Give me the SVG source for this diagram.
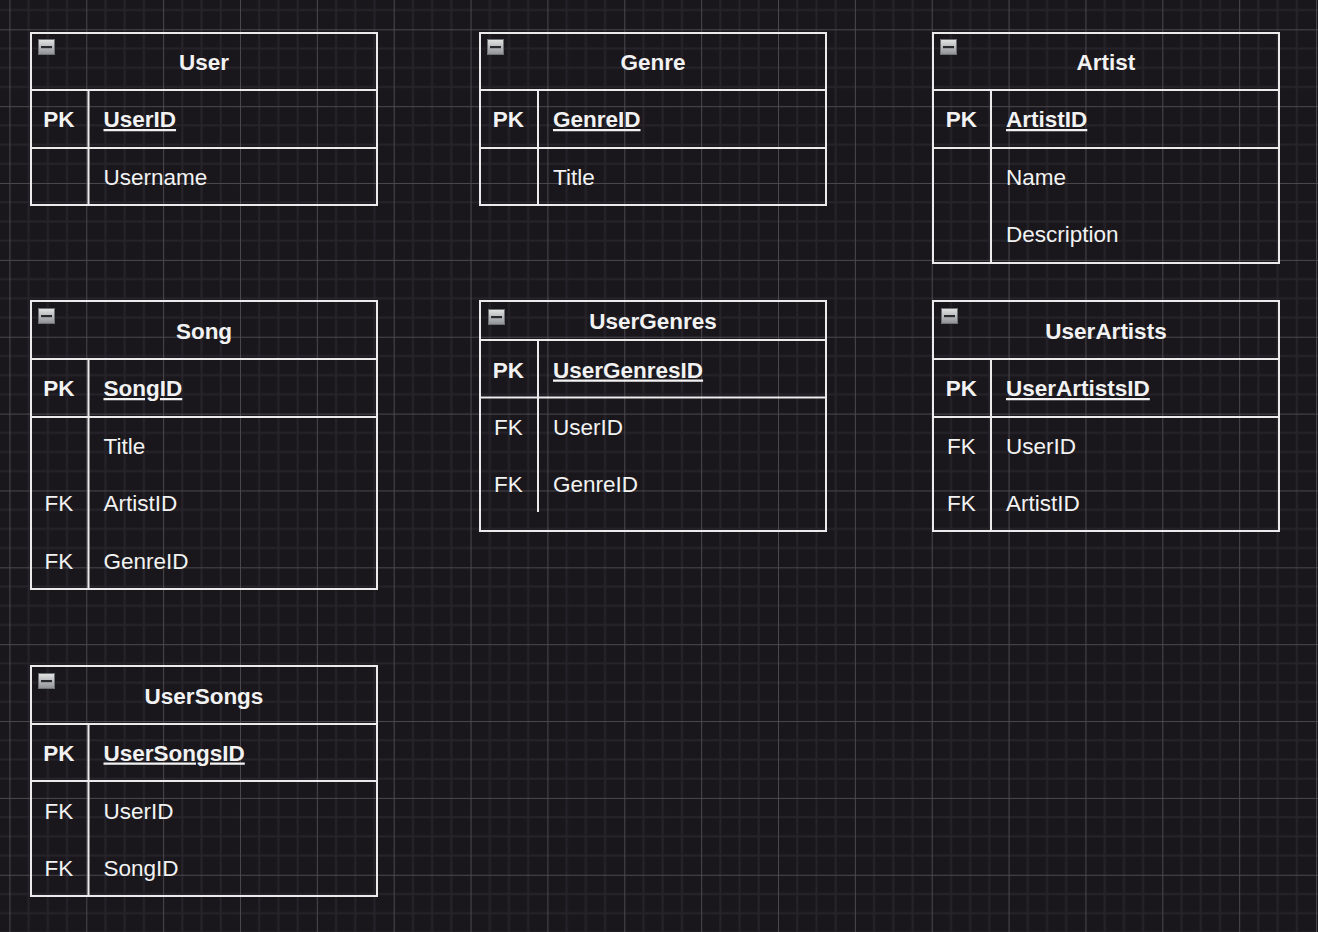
<svg xmlns="http://www.w3.org/2000/svg" width="1318" height="932" viewBox="0 0 1318 932">
<defs>
<style>
.frame{fill:none;stroke:#ebebeb;stroke-width:2}
.ln{stroke:#ebebeb;stroke-width:2;fill:none}
text{font-family:"Liberation Sans",Arial,Helvetica,sans-serif;font-size:22.5px;fill:#f2f2f2}
.title{font-weight:bold;text-anchor:middle}
.pk{font-weight:bold;text-anchor:middle}
.fk{text-anchor:middle}
.pkname{font-weight:bold;text-decoration:underline}
</style>
<linearGradient id="ig" x1="0" y1="0" x2="0" y2="1">
<stop offset="0" stop-color="#e4e4e4"/>
<stop offset="1" stop-color="#8e9094"/>
</linearGradient>
<g id="icon">
<rect x="0.5" y="0.5" width="16" height="15" fill="url(#ig)" stroke="#6f7275" stroke-width="1"/>
<rect x="3" y="7" width="11" height="2.2" fill="#2a2a2e"/>
</g>
<pattern id="grid" patternUnits="userSpaceOnUse" x="9.4" y="29.3" width="76.86" height="76.86">
<rect width="76.86" height="76.86" fill="#19171c"/>
<path d="M19.215 0V76.86M38.43 0V76.86M57.645 0V76.86M0 19.215H76.86M0 38.43H76.86M0 57.645H76.86" stroke="#26242a" stroke-width="2"/>
<path d="M0.5 0V76.86M0 0.5H76.86" stroke="#4a484d" stroke-width="1"/>
</pattern>
</defs>
<rect width="1318" height="932" fill="url(#grid)"/>

<g id="User">
<rect class="frame" x="31" y="33" width="346" height="172"/>
<path class="ln" d="M31 90H377M31 148H377M88.5 90V205"/>
<use href="#icon" x="38" y="39"/>
<text class="title" x="204" y="70">User</text>
<text class="pk" x="59" y="127">PK</text>
<text class="pkname" x="103.5" y="127">UserID</text>
<text x="103.5" y="185">Username</text>
</g>

<g id="Genre">
<rect class="frame" x="480" y="33" width="346" height="172"/>
<path class="ln" d="M480 90H826M480 148H826M538 90V205"/>
<use href="#icon" x="487" y="39"/>
<text class="title" x="653" y="70">Genre</text>
<text class="pk" x="508.5" y="127">PK</text>
<text class="pkname" x="553" y="127">GenreID</text>
<text x="553" y="185">Title</text>
</g>

<g id="Artist">
<rect class="frame" x="933" y="33" width="346" height="230"/>
<path class="ln" d="M933 90H1279M933 148H1279M991 90V263"/>
<use href="#icon" x="940" y="39"/>
<text class="title" x="1106" y="70">Artist</text>
<text class="pk" x="961.5" y="127">PK</text>
<text class="pkname" x="1006" y="127">ArtistID</text>
<text x="1006" y="185">Name</text>
<text x="1006" y="242">Description</text>
</g>

<g id="Song">
<rect class="frame" x="31" y="301" width="346" height="288"/>
<path class="ln" d="M31 359H377M31 417H377M88.5 359V589"/>
<use href="#icon" x="38" y="308"/>
<text class="title" x="204" y="339">Song</text>
<text class="pk" x="59" y="396">PK</text>
<text class="pkname" x="103.5" y="396">SongID</text>
<text x="103.5" y="454">Title</text>
<text class="fk" x="59" y="511">FK</text>
<text x="103.5" y="511">ArtistID</text>
<text class="fk" x="59" y="568.5">FK</text>
<text x="103.5" y="568.5">GenreID</text>
</g>

<g id="UserGenres">
<rect class="frame" x="480" y="301" width="346" height="230"/>
<path class="ln" d="M480 340H826M480 397.5H826M538 340V512"/>
<use href="#icon" x="488" y="309"/>
<text class="title" x="653" y="328.5">UserGenres</text>
<text class="pk" x="508.5" y="377.5">PK</text>
<text class="pkname" x="553" y="377.5">UserGenresID</text>
<text class="fk" x="508.5" y="435">FK</text>
<text x="553" y="435">UserID</text>
<text class="fk" x="508.5" y="492">FK</text>
<text x="553" y="492">GenreID</text>
</g>

<g id="UserArtists">
<rect class="frame" x="933" y="301" width="346" height="230"/>
<path class="ln" d="M933 359H1279M933 417H1279M991 359V531"/>
<use href="#icon" x="941" y="308"/>
<text class="title" x="1106" y="339">UserArtists</text>
<text class="pk" x="961.5" y="396">PK</text>
<text class="pkname" x="1006" y="396">UserArtistsID</text>
<text class="fk" x="961.5" y="454">FK</text>
<text x="1006" y="454">UserID</text>
<text class="fk" x="961.5" y="511">FK</text>
<text x="1006" y="511">ArtistID</text>
</g>

<g id="UserSongs">
<rect class="frame" x="31" y="666" width="346" height="230"/>
<path class="ln" d="M31 724H377M31 781H377M88.5 724V896"/>
<use href="#icon" x="38" y="673"/>
<text class="title" x="204" y="703.5">UserSongs</text>
<text class="pk" x="59" y="760.5">PK</text>
<text class="pkname" x="103.5" y="760.5">UserSongsID</text>
<text class="fk" x="59" y="818.5">FK</text>
<text x="103.5" y="818.5">UserID</text>
<text class="fk" x="59" y="876">FK</text>
<text x="103.5" y="876">SongID</text>
</g>

<g id="connectors"/>
</svg>
